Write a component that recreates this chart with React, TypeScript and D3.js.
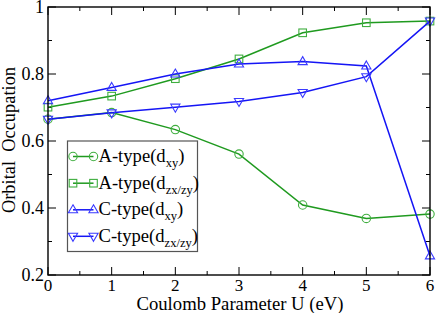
import React from "react";
import * as d3 from "d3";

const uValues = [0, 1, 2, 3, 4, 5, 6];
const aTypeXY = [0.665, 0.685, 0.634, 0.561, 0.409, 0.369, 0.382];
const aTypeZX = [0.701, 0.734, 0.786, 0.845, 0.923, 0.953, 0.958];
const cTypeXY = [0.72, 0.76, 0.8, 0.83, 0.837, 0.824, 0.257];
const cTypeZX = [0.665, 0.684, 0.701, 0.718, 0.745, 0.792, 0.958];
const xTicks = [0, 1, 2, 3, 4, 5, 6];
const yTicks = [0.2, 0.4, 0.6, 0.8, 1];
const yTickLabels = ["0.2", "0.4", "0.6", "0.8", "1"];

const GREEN = "#1f9a1f";
const GREEN_M = "#3fae3f";
const BLUE = "#1515f5";
const BLUE_M = "#3a3aff";

type Series = { name: string; sub: string; values: number[]; line: string; mark: string; shape: string };
const series: Series[] = [
  { name: "A-type(d", sub: "xy", values: aTypeXY, line: GREEN, mark: GREEN_M, shape: "circle" },
  { name: "A-type(d", sub: "zx/zy", values: aTypeZX, line: GREEN, mark: GREEN_M, shape: "square" },
  { name: "C-type(d", sub: "xy", values: cTypeXY, line: BLUE, mark: BLUE_M, shape: "up" },
  { name: "C-type(d", sub: "zx/zy", values: cTypeZX, line: BLUE, mark: BLUE_M, shape: "down" },
];

function Marker({ shape, x, y, color }: { shape: string; x: number; y: number; color: string }) {
  const common = { fill: "none", stroke: color, strokeWidth: 1.1 };
  if (shape === "circle") return <circle cx={x} cy={y} r={4.2} {...common} />;
  if (shape === "square") return <rect x={x - 3.8} y={y - 3.8} width={7.6} height={7.6} {...common} />;
  if (shape === "up")
    return <path d={`M${x},${y - 5} L${x + 4.6},${y + 3} L${x - 4.6},${y + 3} Z`} {...common} />;
  return <path d={`M${x},${y + 5} L${x + 4.6},${y - 3} L${x - 4.6},${y - 3} Z`} {...common} />;
}

export default function App() {
  const W = 436, H = 313;
  const L = 48, R = 430, T = 7, B = 275;
  const x = d3.scaleLinear().domain([0, 6]).range([L, R]);
  const y = d3.scaleLinear().domain([0.2, 1]).range([B, T]);
  const line = d3
    .line<[number, number]>()
    .x((d) => x(d[0]))
    .y((d) => y(d[1]));
  const font = "'Liberation Serif', 'Times New Roman', serif";

  const xMinor = d3.range(0.5, 6, 1);
  const yMinor = d3.range(0.3, 1, 0.2);

  const legendRows = [156.5, 183.2, 209.8, 236.3];

  return (
    <svg width={W} height={H} style={{ position: "absolute", left: 0, top: 0, background: "#fff" }} fontFamily={font}>
      <rect x={0} y={0} width={W} height={H} fill="#fff" />
      {/* ticks */}
      <g stroke="#000" strokeWidth={1}>
        {xTicks.map((t) => (
          <g key={"xt" + t}>
            <line x1={x(t)} x2={x(t)} y1={B} y2={B - 8} />
            <line x1={x(t)} x2={x(t)} y1={T} y2={T + 8} />
          </g>
        ))}
        {xMinor.map((t) => (
          <g key={"xm" + t}>
            <line x1={x(t)} x2={x(t)} y1={B} y2={B - 4} />
            <line x1={x(t)} x2={x(t)} y1={T} y2={T + 4} />
          </g>
        ))}
        {yTicks.map((t) => (
          <g key={"yt" + t}>
            <line x1={L} x2={L + 8} y1={y(t)} y2={y(t)} />
            <line x1={R} x2={R - 8} y1={y(t)} y2={y(t)} />
          </g>
        ))}
        {yMinor.map((t) => (
          <g key={"ym" + t}>
            <line x1={L} x2={L + 4} y1={y(t)} y2={y(t)} />
            <line x1={R} x2={R - 4} y1={y(t)} y2={y(t)} />
          </g>
        ))}
      </g>
      {/* series */}
      {series.map((s, i) => {
        const pts = uValues.map((u, j) => [u, s.values[j]] as [number, number]);
        return (
          <g key={"s" + i}>
            <path d={line(pts) || ""} fill="none" stroke={s.line} strokeWidth={1.5} />
            {pts.map((p, j) => (
              <Marker key={j} shape={s.shape} x={x(p[0])} y={y(p[1])} color={s.mark} />
            ))}
          </g>
        );
      })}
      {/* frame */}
      <rect x={L} y={T} width={R - L} height={B - T} fill="none" stroke="#000" strokeWidth={1.4} />
      {/* tick labels */}
      {xTicks.map((t) => (
        <text key={"xl" + t} x={x(t)} y={291} textAnchor="middle" fontSize={17}>
          {t}
        </text>
      ))}
      {yTicks.map((t, i) => (
        <text key={"yl" + t} x={L - 4} y={y(t) + 6.2} textAnchor="end" fontSize={18}>
          {yTickLabels[i]}
        </text>
      ))}
      {/* axis titles */}
      <text x={(L + R) / 2 + 1} y={310} textAnchor="middle" fontSize={18.7}>
        Coulomb Parameter U (eV)
      </text>
      <text
        transform={`translate(15, ${(T + B) / 2 - 1}) rotate(-90)`}
        textAnchor="middle"
        fontSize={18.4}
        style={{ whiteSpace: "pre" }}
      >
        {"Orbital  Occupation"}
      </text>
      {/* legend */}
      <rect x={67.5} y={141} width={130} height={110.5} fill="#fff" stroke="#555" strokeWidth={1.2} />
      {series.map((s, i) => {
        const ly = legendRows[i];
        return (
          <g key={"lg" + i}>
            <line x1={73} x2={93.5} y1={ly} y2={ly} stroke={s.line} strokeWidth={1.5} />
            <Marker shape={s.shape} x={73} y={ly} color={s.mark} />
            <Marker shape={s.shape} x={93.5} y={ly} color={s.mark} />
            <text x={98.5} y={ly + 5.5} fontSize={18.6}>
              {s.name}
              <tspan fontSize={12.5} dy={5}>{s.sub}</tspan>
              <tspan dy={-5}>)</tspan>
            </text>
          </g>
        );
      })}
    </svg>
  );
}
